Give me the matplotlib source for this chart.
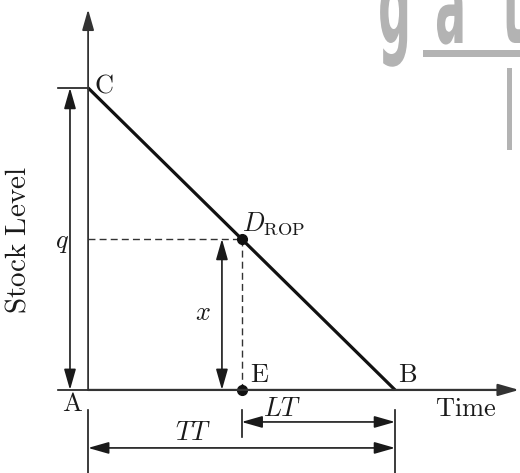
import matplotlib
matplotlib.use('Agg')
import matplotlib.pyplot as plt
from matplotlib.patches import ArrowStyle, PathPatch, Rectangle
from matplotlib.textpath import TextPath
from matplotlib.font_manager import FontProperties
from matplotlib.transforms import Affine2D

plt.rcParams['mathtext.fontset'] = 'cm'
plt.rcParams['font.family'] = 'DejaVu Serif'

# diagram values (time units / stock units)
q = 10.0          # order quantity at C
T_total = 10.0    # TT: time from A to B
t_rop = 5.0       # time at reorder point E
x_rop = q * (1 - t_rop / T_total)   # stock at reorder point
t_lead = T_total - t_rop            # LT

fig = plt.figure(figsize=(5.2, 4.73), dpi=100)
ax = fig.add_axes([0, 0, 1, 1])
ax.set_xlim(-2.87, 14.07)
ax.set_ylim(-2.75, 12.91)
ax.axis('off')

dark = '#333333'
head = ArrowStyle('-|>', head_length=0.7, head_width=0.2)
both = ArrowStyle('<|-|>', head_length=0.7, head_width=0.2)

def arrow(p0, p1, style, lw=1.2, color='#1a1a1a'):
    ax.annotate('', xy=p1, xytext=p0,
                arrowprops=dict(arrowstyle=style, mutation_scale=18, lw=lw,
                                color=color, shrinkA=0, shrinkB=0))

# axes
arrow((0, 0), (0, 12.6), head, lw=1.3, color=dark)
arrow((0, 0), (14.04, 0), head, lw=1.6, color=dark)

# stock line C -> B
ax.plot([0, T_total], [q, 0], color='#111111', lw=2.3, solid_capstyle='butt')

# reorder point dashed guides
ax.plot([0, t_rop], [x_rop, x_rop], color=dark, lw=1.0, ls=(0, (5, 3)))
ax.plot([t_rop, t_rop], [x_rop, 0], color=dark, lw=1.0, ls=(0, (5, 3)))
ax.plot([t_rop, t_rop], [x_rop, 0], 'o', color='#111111', ms=7)

# q dimension
ax.plot([-0.98, 0], [q, q], color='#1a1a1a', lw=1.2)
ax.plot([-0.98, 0], [0, 0], color='#1a1a1a', lw=1.2)
arrow((-0.59, 0), (-0.59, q), both)

# x dimension
arrow((4.36, 0), (4.36, x_rop), both)

# time dimensions
ax.plot([t_rop, t_rop], [-0.66, -1.56], color='#1a1a1a', lw=1.2)
ax.plot([T_total, T_total], [-0.66, -2.75], color='#1a1a1a', lw=1.2)
ax.plot([0, 0], [-0.66, -2.75], color='#1a1a1a', lw=1.2)
arrow((t_rop, -1.06), (T_total, -1.06), both)
arrow((0, -1.92), (T_total, -1.92), both)

fs = 19
kw = dict(fontsize=fs, ha='center', va='center', color='#1a1a1a')
ax.text(-0.52, -0.46, r'$\mathrm{A}$', **kw)
ax.text(0.52, 10.1, r'$\mathrm{C}$', **kw)
ax.text(5.6, 0.5, r'$\mathrm{E}$', **kw)
ax.text(10.4, 0.5, r'$\mathrm{B}$', **kw)
ax.text(12.3, -0.6, r'$\mathrm{Time}$', **kw)
ax.text(6.32, -0.62, r'$LT$', **kw)
ax.text(3.42, -1.4, r'$TT$', **kw)
ax.text(-0.85, 4.87, r'$q$', **kw)
ax.text(3.75, 2.58, r'$x$', **kw)
ax.text(6.05, 5.5, r'$D_{\mathrm{ROP}}$', **kw)
ax.text(-2.31, 4.97, r'$\mathrm{Stock\ Level}$', rotation=90,
        **{**kw, 'fontsize': 21})

# watermark (pixel coordinates overlay)
wm = fig.add_axes([0, 0, 1, 1])
wm.set_xlim(0, 520)
wm.set_ylim(473, 0)
wm.axis('off')
gray = '#b3b3b3'
fp = FontProperties(family='DejaVu Sans', weight='bold')
for ch, x0 in [('g', 378), ('a', 435), ('t', 502)]:
    tp = TextPath((0, 0), ch, size=110, prop=fp)
    tr = Affine2D().scale(0.42, -1.0).translate(x0, 43)
    wm.add_patch(PathPatch(tr.transform_path(tp), color=gray, lw=0))
wm.add_patch(Rectangle((423, 50), 97, 7, color=gray, lw=0))
wm.add_patch(Rectangle((507, 68), 5, 82, color=gray, lw=0))

fig.savefig('out.png', dpi=100)
